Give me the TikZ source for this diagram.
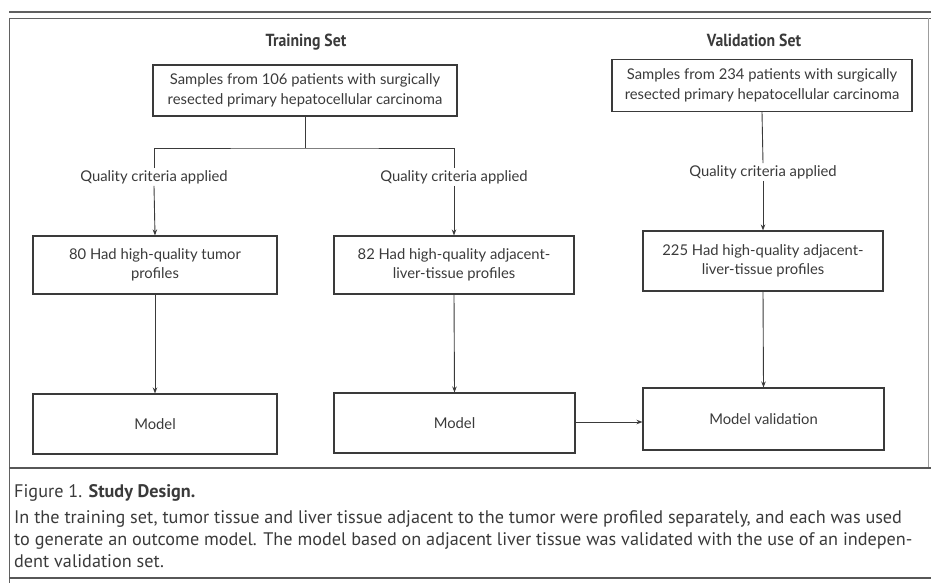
\documentclass[tikz,border=0pt]{standalone}
\usepackage{fontspec}
\setmainfont{Lato}
\newfontfamily\capfont{PT Sans}
\newfontfamily\headfont[FakeStretch=0.9]{PT Sans}
\usetikzlibrary{arrows.meta}

\definecolor{inkgray}{HTML}{3A3A3A}

\begin{document}
\begin{tikzpicture}[x=1pt,y=-1pt,>={Stealth[length=6pt,width=4.5pt]}]
                \useasboundingbox (0,0) rectangle (931,583);
                % page frame and caption rules
                \draw[line width=1.6pt, inkgray!80] (9,12) -- (931,12);
                \draw[line width=0.9pt, inkgray!80] (9,18) -- (931,18);
                \draw[line width=0.9pt, inkgray!80] (9,18) -- (9,583);
                \draw[line width=0.6pt, inkgray!50] (928,18) -- (928,468);
                \draw[line width=1.2pt, inkgray!85] (9,468) -- (931,468);
                \draw[line width=1.4pt, inkgray!85] (9,578) -- (931,578);
                \begin{scope}[every node/.style={text=inkgray}]
                    \node (TT) [font=\headfont\bfseries\fontsize{17.5}{20}\selectfont] at (306,42) {Training Set};
                    \node (VT) [font=\headfont\bfseries\fontsize{17.5}{20}\selectfont] at (754,40) {Validation Set};
                \end{scope}
                \begin{scope}[every node/.style={draw=inkgray, line width=1.1pt, text=inkgray, align=center, inner sep=0pt, font=\fontsize{14.8}{19.5}\selectfont}]
                    \node (S1) [minimum width=304, minimum height=51] at (305,90.5) {Samples from 106 patients with surgically\\resected primary hepatocellular carcinoma};
                    \node (S2) [minimum width=300, minimum height=52] at (762,85.5) {Samples from 234 patients with surgically\\resected primary hepatocellular carcinoma};
                    \node (A1) [minimum width=244, minimum height=58] at (155,265) {80 Had high-quality tumor\\profiles};
                    \node (A2) [minimum width=240, minimum height=58] at (454,265) {82 Had high-quality adjacent-\\liver-tissue profiles};
                    \node (B1) [minimum width=240, minimum height=60] at (763,261) {225 Had high-quality adjacent-\\liver-tissue profiles};
                    \node (M1) [minimum width=244, minimum height=60] at (155,424) {Model};
                    \node (M2) [minimum width=241, minimum height=60] at (454.5,423) {Model};
                    \node (MV) [minimum width=241, minimum height=62] at (763.5,419) {Model validation};
                \end{scope}
                \begin{scope}[every node/.style={text=inkgray, inner sep=2pt, font=\fontsize{14.8}{17}\selectfont}]
                    \node (Q1) at (154,177) {Quality criteria applied};
                    \node (Q2) at (454,177) {Quality criteria applied};
                    \node (Q3) at (763,172) {Quality criteria applied};
                \end{scope}
                \coordinate (J) at (305,148);
                \begin{scope}[every path/.style={draw=inkgray, line width=0.9pt}]
                    \draw (S1.south) -- (J);
                    \draw (Q1.north) |- (J) -| (Q2.north);
                    \draw[->] (Q1.south) -- (A1.north);
                    \draw[->] (Q2.south) -- (A2.north);
                    \draw (S2.south) -- (Q3.north);
                    \draw[->] (Q3.south) -- (B1.north);
                    \draw[->] (A1.south) -- (M1.north);
                    \draw[->] (A2.south) -- (M2.north);
                    \draw[->] (B1.south) -- (MV.north);
                    \draw[->] (M2.east |- 0,422) -- (MV.west |- 0,422);
                \end{scope}
                % caption
                \begin{scope}[every node/.style={anchor=base west, inner sep=0pt, text=inkgray, font=\capfont\fontsize{18.2}{21}\selectfont}]
                    \node (CT) at (14,497) {Figure 1. \textbf{Study Design.}};
                    \node (C1) at (14,523) {In the training set, tumor tissue and liver tissue adjacent to the tumor were profiled separately, and each was used};
                    \node (C2) at (14,545) {to generate an outcome model. The model based on adjacent liver tissue was validated with the use of an indepen-};
                    \node (C3) at (14,567) {dent validation set.};
                \end{scope}
\end{tikzpicture}
\end{document}
